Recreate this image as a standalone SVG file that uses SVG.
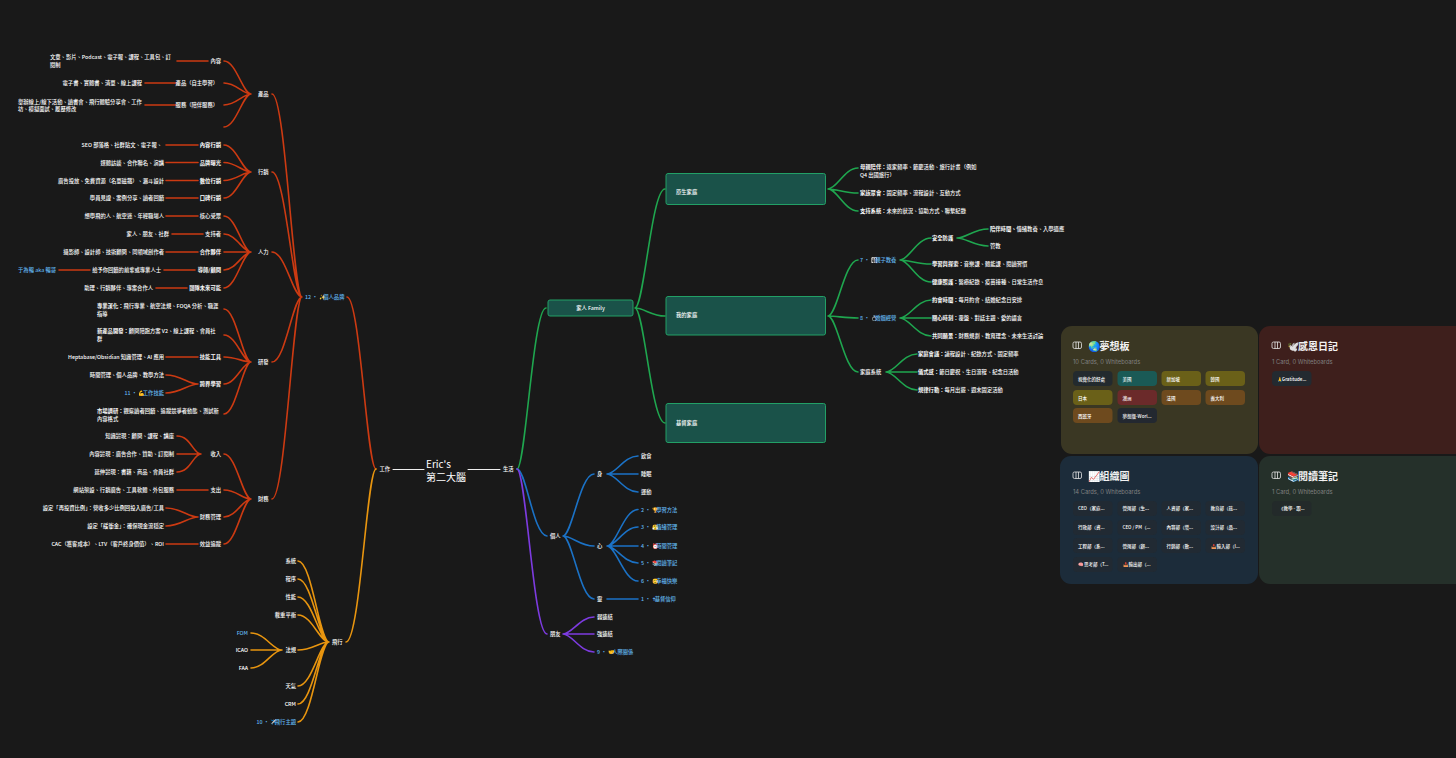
<svg xmlns="http://www.w3.org/2000/svg" width="1456" height="758" viewBox="0 0 1456 758">
<style>
text{font-family:"Noto Sans CJK TC","Noto Sans",sans-serif;font-size:5.3px;font-weight:500;fill:#fff;dominant-baseline:central}
.e{text-anchor:end}
.b{fill:#62b6ee}
.s{font-weight:700}
.c{fill:none;stroke-width:1.6;stroke-linecap:round}
.red{stroke:#cc3a12}.ora{stroke:#e8950f}.gre{stroke:#1fa64f}.blu{stroke:#1b72c6}.pur{stroke:#7d3be0}.wht{stroke:#eee;stroke-width:1}
.box{fill:#1a5249;stroke:#22a066;stroke-width:1}
.card{stroke:none}
.ttl{font-size:10px;font-weight:700;fill:#f2f2f2}
.sub{font-size:5.8px;font-weight:400;fill:#808080;font-family:Inter,"Noto Sans",sans-serif}
.chip{font-size:4.5px}
.ic{fill:none;stroke:#e6e6e6;stroke-width:.8}
</style>
<rect width="1456" height="758" fill="#191919"/>
<g id="connectors">
<path class="c wht" d="M393 469.500H424M468 469.500H500"/>
<path class="c red" d="M376 469C367 469 360 297 347 297M302 297C293 297 285.500 94 272 94M302 297C293 297 285.500 172 272 172M302 297C293 297 285.500 252 272 252M302 297C293 297 285.500 362 272 362M302 297C293 297 285.500 499 272 499"/>
<path class="c red" d="M251 94C243 94 236 61 224 61M251 94C243 94 236 83 224 83M251 94C243 94 236 105 224 105M251 94C243 94 236 127 224 127M208 61H177M176 83H145M176 105H145"/>
<path class="c red" d="M251 172C243 172 236 145 224 145M251 172C243 172 236 162.500 224 162.500M251 172C243 172 236 180.500 224 180.500M251 172C243 172 236 198 224 198M198 145H166M198 162.500H166M198 180.500H166M198 198H166"/>
<path class="c red" d="M251 252C243 252 236 216 224 216M251 252C243 252 236 234 224 234M251 252H224M251 252C243 252 236 270 224 270M251 252C243 252 236 288 224 288M198 216H166M203 234H172M198 252H166M195 270H164M90 270H59M187 288H156"/>
<path class="c red" d="M251 362C243 362 236 309 224 309M251 362C243 362 236 335 224 335M251 362C243 362 236 357 224 357M251 362C243 362 236 384 224 384M251 362C243 362 236 414 224 414M198 357H166M198 384C188.500 384 180.500 375 166 375M198 384C188.500 384 180.500 393 166 393"/>
<path class="c red" d="M251 499C243 499 236 454 224 454M251 499C243 499 236 490 224 490M251 499C243 499 236 517 224 517M251 499C243 499 236 544 224 544M201 454C193 454 191 436 177 436M201 454H177M201 454C193 454 191 472 177 472M208 490H177M198 517C188.500 517 180.500 508 166 508M198 517C188.500 517 180.500 526 166 526M198 544H166"/>
<path class="c ora" d="M376 469C367 469 360 642 346 642M329 642C319.500 642 312 561 298 561M329 642C319.500 642 312 579 298 579M329 642C319.500 642 312 597 298 597M329 642C319.500 642 312 615 298 615M329 642C319.500 642 312 650 298 650M329 642C319.500 642 312 686 298 686M329 642C319.500 642 312 704 298 704M329 642C319.500 642 312 722 298 722M282 650C272.500 650 265 633 251 633M282 650H251M282 650C272.500 650 265 668 251 668"/>
<path class="c gre" d="M517 469C525.500 469 533 308 546 308M635 308C644 308 651.500 189 665 189M635 308C644 308 651.500 316 665 316M635 308C644 308 651.500 423 665 423M828 189C837 189 844.500 168 858 168M828 189C837 189 844.500 193 858 193M828 189C837 189 844.500 211 858 211M828 316C837 316 844.500 260 858 260M828 316C837 316 844.500 318 858 318M828 316C837 316 844.500 372 858 372M900 260C909 260 917 238 931 238M900 260C909 260 917 264 931 264M900 260C909 260 917 282 931 282M957 238C966 238 974 229 988 229M957 238C966 238 974 246 988 246M900 318C909 318 917 300 931 300M900 318H931M900 318C909 318 917 336 931 336M886 372C895 372 903 354 917 354M886 372H917M886 372C895 372 903 390 917 390"/>
<path class="c blu" d="M517 469C526 469 533.500 536 547 536M563 536C572 536 580 474 594 474M563 536C572 536 580 546 594 546M563 536C572 536 580 599 594 599M607 474C616 474 624 456 638 456M607 474H638M607 474C616 474 624 492 638 492M607 546C616 546 624 509.500 638 509.500M607 546C616 546 624 527 638 527M607 546H638M607 546C616 546 624 563 638 563M607 546C616 546 624 581 638 581M607 599H638"/>
<path class="c pur" d="M517 469C526 469 533.500 634 547 634M563 634C572 634 580 617 594 617M563 634H594M563 634C572 634 580 652 594 652"/>
</g>
<g id="center"><text x="426" y="463" style="font-size:10px;font-weight:400">Eric's</text><text x="426" y="476" style="font-size:10px;font-weight:400">第二大腦</text></g>
<g id="work"><text x="390" y="469" class="e">工作</text></g>
<g id="life"><text x="503" y="469">生活</text></g>
<g id="brand"><text x="305" y="297" class="b">12 · ✨<tspan dx="-2.500">個人品牌</tspan></text></g>
<g id="fly"><text x="332" y="642">飛行</text></g>
<g id="product"><text x="258" y="94">產品</text></g>
<g id="marketing"><text x="258" y="172">行銷</text></g>
<g id="people"><text x="258" y="252">人力</text></g>
<g id="rd"><text x="258" y="362">研發</text></g>
<g id="finance"><text x="258" y="499">財務</text></g>
<g id="p1"><text x="221" y="61" class="e">內容</text><text x="50" y="57">文章、影片、Podcast、電子報、課程、工具包、訂</text><text x="50" y="65">閱制</text></g>
<g id="p2"><text x="218" y="83" class="e">產品（自主學習）</text><text x="142" y="83" class="e">電子書、實體書、清單、線上課程</text></g>
<g id="p3"><text x="218" y="105" class="e">服務（陪伴服務）</text><text x="18" y="101.500">舉辦線上/線下活動、讀書會、飛行體驗分享會、工作</text><text x="18" y="109">坊、模擬面試、履歷修改</text></g>
<g id="m1"><text x="221" y="145" class="e s">內容行銷</text><text x="162" y="145" class="e">SEO 部落格、社群貼文、電子報、</text></g>
<g id="m2"><text x="221" y="162.500" class="e s">品牌曝光</text><text x="164" y="162.500" class="e">媒體訪談、合作聯名、演講</text></g>
<g id="m3"><text x="221" y="180.500" class="e s">數位行銷</text><text x="164" y="180.500" class="e">廣告投放、免費資源（名單磁鐵）、漏斗設計</text></g>
<g id="m4"><text x="221" y="198" class="e s">口碑行銷</text><text x="164" y="198" class="e">學員見證、案例分享、讀者回饋</text></g>
<g id="h1"><text x="221" y="216" class="e">核心受眾</text><text x="164" y="216" class="e">想學飛的人、航空迷、年輕職場人</text></g>
<g id="h2"><text x="221" y="234" class="e">支持者</text><text x="169" y="234" class="e">家人、朋友、社群</text></g>
<g id="h3"><text x="221" y="252" class="e s">合作夥伴</text><text x="164" y="252" class="e">攝影師、設計師、技術顧問、同領域創作者</text></g>
<g id="h4"><text x="221" y="270" class="e s">導師/顧問</text><text x="161" y="270" class="e">給予你回饋的前輩或專業人士</text><text x="56" y="270" class="e b">于為暢 aka 暢哥</text></g>
<g id="h5"><text x="221" y="288" class="e s">團隊未來可能</text><text x="153" y="288" class="e">助理、行銷夥伴、專案合作人</text></g>
<g id="r1"><text x="97" y="305.500"><tspan class="s">專業深化：</tspan>飛行專業、航空法規、FOQA 分析、職涯</text><text x="97" y="314">指導</text></g>
<g id="r2"><text x="97" y="331"><tspan class="s">新產品開發：</tspan>顧問陪跑方案 V2、線上課程、會員社</text><text x="97" y="339">群</text></g>
<g id="r3"><text x="221" y="357" class="e s">技能工具</text><text x="164" y="357" class="e">Heptabase/Obsidian 知識管理、AI 應用</text></g>
<g id="r4"><text x="221" y="384" class="e s">跨界學習</text><text x="164" y="375" class="e">時間管理、個人品牌、教學方法</text><text x="164" y="393" class="e b">11 · 💪<tspan dx="-2.500">工作技能</tspan></text></g>
<g id="r5"><text x="97" y="411"><tspan class="s">市場調研：</tspan>觀察讀者回饋、追蹤競爭者動態、測試新</text><text x="97" y="419">內容格式</text></g>
<g id="f1"><text x="221" y="454" class="e">收入</text><text x="174" y="436" class="e">知識變現：顧問、課程、講座</text><text x="174" y="454" class="e">內容變現：廣告合作、贊助、訂閱制</text><text x="174" y="472" class="e">延伸變現：書籍、商品、會員社群</text></g>
<g id="f2"><text x="221" y="490" class="e">支出</text><text x="174" y="490" class="e">網站架設、行銷廣告、工具軟體、外包服務</text></g>
<g id="f3"><text x="221" y="517" class="e">財務管理</text><text x="164" y="508" class="e">設定「再投資比例」：營收多少比例回投入廣告/工具</text><text x="164" y="526" class="e">設定「緩衝金」：確保現金流穩定</text></g>
<g id="f4"><text x="221" y="544" class="e">效益追蹤</text><text x="164" y="544" class="e">CAC（獲客成本）、LTV（客戶終身價值）、ROI</text></g>
<g id="fly-items"><text x="296" y="561" class="e">系統</text><text x="296" y="579" class="e">程序</text><text x="296" y="597" class="e">性能</text><text x="296" y="615" class="e">載重平衡</text><text x="296" y="650" class="e">法規</text><text x="296" y="686" class="e">天氣</text><text x="296" y="704" class="e">CRM</text><text x="296" y="722" class="e b">10 · ✈️<tspan dx="-2.500">飛行主題</tspan></text><text x="248" y="633" class="e b">FOM</text><text x="248" y="650" class="e">ICAO</text><text x="248" y="668" class="e">FAA</text></g>
<g id="family"><rect class="box" x="548" y="300" width="85" height="16" rx="2"/><text x="590.500" y="308" text-anchor="middle">家人 Family</text></g>
<g id="origin"><rect class="box" x="666" y="173.500" width="159.500" height="31" rx="2"/><text x="676" y="192">原生家庭</text></g>
<g id="mine"><rect class="box" x="666" y="296.500" width="159.500" height="38.500" rx="2"/><text x="676" y="315">我的家庭</text></g>
<g id="christ"><rect class="box" x="666" y="403.500" width="159.500" height="39" rx="2"/><text x="676" y="423">基督家庭</text></g>
<g id="o1"><text x="860" y="167"><tspan class="s">母親陪伴：</tspan>返家頻率、節慶活動、旅行計畫（例如</text><text x="860" y="175">Q4 出國旅行）</text></g>
<g id="o2"><text x="860" y="193"><tspan class="s">家族聚會：</tspan>固定頻率、流程設計、互動方式</text></g>
<g id="o3"><text x="860" y="211"><tspan class="s">支持系統：</tspan>未來的狀況、協助方式、聯繫紀錄</text></g>
<g id="k7"><text x="860" y="260" class="b">7 · 👨‍👩‍👧‍👦<tspan dx="-2.500">親子教養</tspan></text></g>
<g id="k8"><text x="860" y="318" class="b">8 · 💍<tspan dx="-2.500">婚姻經營</tspan></text></g>
<g id="ksys"><text x="860" y="372">家庭系統</text></g>
<g id="k71"><text x="932" y="238" class="s">安全防護</text><text x="990" y="229"><tspan class="s">陪伴時間、</tspan>情緒教養、入學適應</text><text x="990" y="246">管教</text></g>
<g id="k72"><text x="932" y="264"><tspan class="s">學習與探索：</tspan>音樂課、體能課、閱讀習慣</text></g>
<g id="k73"><text x="932" y="282"><tspan class="s">健康照護：</tspan>醫療紀錄、疫苗接種、日常生活作息</text></g>
<g id="k81"><text x="932" y="300"><tspan class="s">約會時間：</tspan>每月約會、結婚紀念日安排</text></g>
<g id="k82"><text x="932" y="318"><tspan class="s">關心時刻：</tspan>覆盤、對話主題、愛的語言</text></g>
<g id="k83"><text x="932" y="336"><tspan class="s">共同願景：</tspan>財務規劃、教育理念、未來生活討論</text></g>
<g id="s1"><text x="918" y="354"><tspan class="s">家庭會議：</tspan>議程設計、紀錄方式、固定頻率</text></g>
<g id="s2"><text x="918" y="372"><tspan class="s">儀式感：</tspan>節日慶祝、生日流程、紀念日活動</text></g>
<g id="s3"><text x="918" y="390"><tspan class="s">規律行動：</tspan>每月出遊、週末固定活動</text></g>
<g id="self"><text x="550" y="536">個人</text><text x="597" y="474">身</text><text x="597" y="546">心</text><text x="597" y="599">靈</text></g>
<g id="body"><text x="641" y="456">飲食</text><text x="641" y="474">睡眠</text><text x="641" y="492">運動</text></g>
<g id="mind"><text x="641" y="509.500" class="b">2 · 🏆<tspan dx="-2.500">學習方法</tspan></text><text x="641" y="527" class="b">3 · 😤<tspan dx="-2.500">情緒管理</tspan></text><text x="641" y="545.500" class="b">4 · ⏰<tspan dx="-2.500">時間管理</tspan></text><text x="641" y="563" class="b">5 · 📚<tspan dx="-2.500">閱讀筆記</tspan></text><text x="641" y="581" class="b">6 · 😊<tspan dx="-2.500">幸福快樂</tspan></text></g>
<g id="spirit"><text x="641" y="599" class="b">1 · ✝<tspan dx="-1">基督信仰</tspan></text></g>
<g id="friends"><text x="550" y="634">朋友</text><text x="597" y="617">弱連結</text><text x="597" y="634">強連結</text><text x="597" y="652" class="b">9 · 🤝<tspan dx="-2.500">人際關係</tspan></text></g>
<defs><g id="book"><rect class="ic" x="0" y="0.500" width="8.500" height="6.500" rx="1.500"/><path class="ic" d="M3 0.500V7M5.500 0.500V7"/></g></defs>
<g id="dream"><rect class="card" x="1061" y="326" width="197" height="128" rx="11" fill="#3a3723"/><use href="#book" x="1073" y="341.500"/><text class="ttl" x="1088" y="345">🌏<tspan x="1099.500">夢想板</tspan></text><text class="sub" x="1073" y="361">10 Cards, 0 Whiteboards</text>
<rect x="1073" y="371" width="39.500" height="15" rx="4" fill="#232a2e"/><text class="chip" x="1078" y="378.500">視覺化的好處</text>
<rect x="1117.500" y="371" width="39.500" height="15" rx="4" fill="#1a5a56"/><text class="chip" x="1122.500" y="378.500">美國</text>
<rect x="1161.500" y="371" width="39.500" height="15" rx="4" fill="#6a6018"/><text class="chip" x="1166.500" y="378.500">新加坡</text>
<rect x="1205.500" y="371" width="39.500" height="15" rx="4" fill="#6a6018"/><text class="chip" x="1210.500" y="378.500">韓國</text>
<rect x="1073" y="390" width="39.500" height="15" rx="4" fill="#6a6018"/><text class="chip" x="1078" y="397.500">日本</text>
<rect x="1117.500" y="390" width="39.500" height="15" rx="4" fill="#6b2a2a"/><text class="chip" x="1122.500" y="397.500">澳洲</text>
<rect x="1161.500" y="390" width="39.500" height="15" rx="4" fill="#6e4a1e"/><text class="chip" x="1166.500" y="397.500">法國</text>
<rect x="1205.500" y="390" width="39.500" height="15" rx="4" fill="#6e4a1e"/><text class="chip" x="1210.500" y="397.500">義大利</text>
<rect x="1073" y="408" width="39.500" height="15" rx="4" fill="#6e4a1e"/><text class="chip" x="1078" y="415.500">西班牙</text>
<rect x="1117.500" y="408" width="39.500" height="15" rx="4" fill="#232830"/><text class="chip" x="1122.500" y="415.500">夢想版-Worl...</text></g>
<g id="gratitude"><rect class="card" x="1259" y="326" width="210" height="128" rx="11" fill="#3e1f1c"/><use href="#book" x="1272" y="341.500"/><text class="ttl" x="1287" y="345">🕊️<tspan x="1298">感恩日記</tspan></text><text class="sub" x="1272" y="361">1 Card, 0 Whiteboards</text>
<rect x="1272" y="371" width="39.500" height="15" rx="4" fill="#232a30"/><text class="chip" x="1277" y="378.500">🙏<tspan dx="-1">Gratitude...</tspan></text></g>
<g id="org"><rect class="card" x="1060" y="456" width="198" height="128" rx="11" fill="#1c2c3a"/><use href="#book" x="1073" y="471.500"/><text class="ttl" x="1088" y="475">📈<tspan x="1099.500">組織圖</tspan></text><text class="sub" x="1073" y="491">14 Cards, 0 Whiteboards</text>
<g fill="#212a33"><rect x="1073" y="501" width="39.500" height="15" rx="4"/><rect x="1117.500" y="501" width="39.500" height="15" rx="4"/><rect x="1161.500" y="501" width="39.500" height="15" rx="4"/><rect x="1205.500" y="501" width="39.500" height="15" rx="4"/><rect x="1073" y="520" width="39.500" height="15" rx="4"/><rect x="1117.500" y="520" width="39.500" height="15" rx="4"/><rect x="1161.500" y="520" width="39.500" height="15" rx="4"/><rect x="1205.500" y="520" width="39.500" height="15" rx="4"/><rect x="1073" y="538" width="39.500" height="15" rx="4"/><rect x="1117.500" y="538" width="39.500" height="15" rx="4"/><rect x="1161.500" y="538" width="39.500" height="15" rx="4"/><rect x="1205.500" y="538" width="39.500" height="15" rx="4"/><rect x="1073" y="557" width="39.500" height="15" rx="4"/><rect x="1117.500" y="557" width="39.500" height="15" rx="4"/></g>
<text class="chip" x="1078" y="508">CEO（家庭...</text><text class="chip" x="1122.500" y="508">營運部（生...</text><text class="chip" x="1166.500" y="508">人資部（家...</text><text class="chip" x="1210.500" y="508">教育部（孩...</text>
<text class="chip" x="1078" y="527">行政部（資...</text><text class="chip" x="1122.500" y="527">CEO / PM（...</text><text class="chip" x="1166.500" y="527">內容部（樂...</text><text class="chip" x="1210.500" y="527">設計部（品...</text>
<text class="chip" x="1078" y="545.500">工程部（系...</text><text class="chip" x="1122.500" y="545.500">營運部（顧...</text><text class="chip" x="1166.500" y="545.500">行銷部（數...</text><text class="chip" x="1210.500" y="545.500">📥輸入部（I...</text>
<text class="chip" x="1078" y="564">🧠思考部（T...</text><text class="chip" x="1122.500" y="564">📤輸出部（...</text></g>
<g id="reading"><rect class="card" x="1259" y="456" width="210" height="128" rx="11" fill="#25302a"/><use href="#book" x="1272" y="471.500"/><text class="ttl" x="1287" y="475">📚<tspan x="1298">閱讀筆記</tspan></text><text class="sub" x="1272" y="491">1 Card, 0 Whiteboards</text>
<rect x="1272" y="501" width="39.500" height="15" rx="4" fill="#232a2a"/><text class="chip" x="1279" y="508">《教學 - 跟...</text></g>
</svg>
